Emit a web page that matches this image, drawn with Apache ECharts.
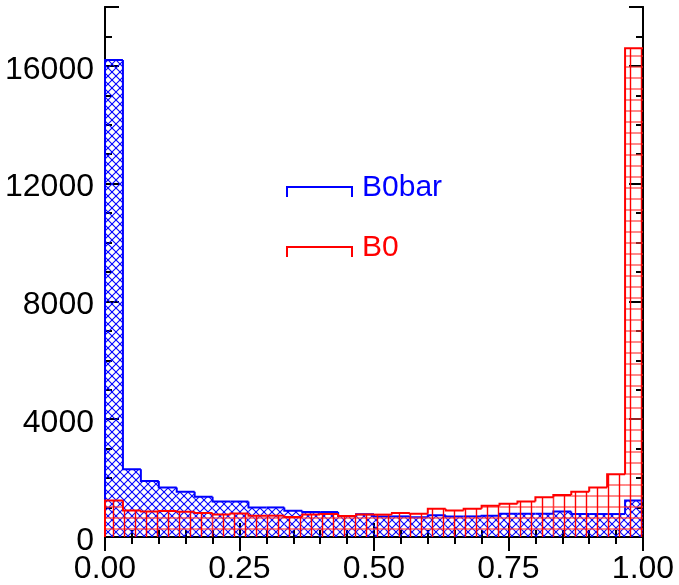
<!DOCTYPE html>
<html>
<head>
<meta charset="utf-8">
<script src="https://cdn.jsdelivr.net/npm/echarts@6/dist/echarts.min.js"></script>
<style>
  html, body { margin: 0; padding: 0; background: #fff; }
  #chart { width: 679px; height: 585px; }
</style>
</head>
<body>
<div id="chart"></div>
<script>
// Histogram of 30 equal bins on [0, 1]
const binCount = 30;
const xRange = [0, 1];
const yRange = [0, 18000];
const xTickLabels = ['0.00', '0.25', '0.50', '0.75', '1.00'];
const yTickLabels = ['0', '4000', '8000', '12000', '16000'];
const seriesNames = ['B0bar', 'B0'];

// Counts per bin
const b0barCounts = [16200, 2300, 1900, 1685, 1540, 1370, 1205, 1205, 1004, 1004,
                     893, 848, 848, 714, 770, 700, 700, 670, 735, 700,
                     700, 720, 790, 790, 790, 870, 780, 780, 780, 1240];
const b0Counts = [1240, 900, 870, 880, 860, 813, 760, 800, 725, 725,
                  680, 760, 780, 714, 760, 760, 813, 790, 960, 903,
                  960, 1060, 1127, 1205, 1350, 1430, 1540, 1685, 2130, 16600];

const FONT = '"Liberation Sans", Arial, Helvetica, sans-serif';

// Hatch patterns
function crossHatch(color, period) {
  const c = document.createElement('canvas');
  c.width = period; c.height = period;
  const g = c.getContext('2d');
  g.strokeStyle = color; g.lineWidth = 1.1;
  for (let k = -1; k <= 1; k++) {
    g.beginPath(); g.moveTo(k * period, 0); g.lineTo(k * period + period, period); g.stroke();
    g.beginPath(); g.moveTo(k * period, period); g.lineTo(k * period + period, 0); g.stroke();
  }
  return { image: c, repeat: 'repeat' };
}
function gridHatch(color, soft, period) {
  const c = document.createElement('canvas');
  c.width = period; c.height = period;
  const g = c.getContext('2d');
  g.strokeStyle = soft; g.lineWidth = 2;
  g.beginPath(); g.moveTo(0, 1); g.lineTo(period, 1); g.stroke();
  g.strokeStyle = color; g.lineWidth = 1.4;
  g.beginPath(); g.moveTo(3.5, 0); g.lineTo(3.5, period); g.stroke();
  return { image: c, repeat: 'repeat' };
}

function binData(counts) {
  return counts.map((v, i) => [i / binCount, (i + 1) / binCount, v, i > 0 ? counts[i - 1] : 0]);
}

function fillSeries(counts, pattern) {
  return {
    type: 'custom',
    xAxisIndex: 0, yAxisIndex: 0,
    data: binData(counts),
    silent: true,
    renderItem: function (params, api) {
      const p0 = api.coord([api.value(0), 0]);
      const p1 = api.coord([api.value(1), api.value(2)]);
      return {
        type: 'rect',
        shape: { x: p0[0], y: p1[1], width: p1[0] - p0[0], height: p0[1] - p1[1] },
        style: { fill: pattern, stroke: null }
      };
    }
  };
}

function outlineSeries(counts, color) {
  return {
    type: 'custom',
    xAxisIndex: 0, yAxisIndex: 0,
    data: binData(counts),
    silent: true,
    renderItem: function (params, api) {
      const a = api.coord([api.value(0), api.value(3)]);
      const b = api.coord([api.value(0), api.value(2)]);
      const c = api.coord([api.value(1), api.value(2)]);
      return {
        type: 'polyline',
        shape: { points: [a, b, c] },
        style: { stroke: color, lineWidth: 2, fill: null }
      };
    }
  };
}

const axisLine = { show: true, lineStyle: { color: '#000', width: 2 } };

function xAxisDef(position, withLabels) {
  return {
    type: 'value', position: position,
    min: xRange[0], max: xRange[1], interval: 0.25,
    axisLine: axisLine,
    axisTick: { show: true, inside: true, length: 14, lineStyle: { color: '#000', width: 2 } },
    minorTick: { show: true, splitNumber: 5, length: 7, lineStyle: { color: '#000', width: 2 } },
    splitLine: { show: false },
    axisLabel: withLabels ? {
      show: true, margin: 16, color: '#000', fontSize: 32, fontFamily: FONT,
      formatter: v => xTickLabels[Math.round(v * 4)]
    } : { show: false }
  };
}

function yAxisDef(position, step, tickLen, withLabels) {
  return {
    type: 'value', position: position,
    min: yRange[0], max: yRange[1], interval: step,
    axisLine: axisLine,
    axisTick: { show: true, inside: true, length: tickLen, lineStyle: { color: '#000', width: 2 } },
    splitLine: { show: false },
    axisLabel: withLabels ? {
      show: true, margin: 11, color: '#000', fontSize: 32, fontFamily: FONT,
      verticalAlign: 'top', lineHeight: 8,
      formatter: v => (v % 4000 === 0 && v / 4000 < yTickLabels.length) ? yTickLabels[v / 4000] : ''
    } : { show: false }
  };
}

function legendMark(y, color, label) {
  return [
    {
      type: 'polyline', silent: true,
      shape: { points: [[287, y + 10], [287, y], [352, y], [352, y + 10]] },
      style: { stroke: color, lineWidth: 2, fill: null }
    },
    {
      type: 'text', silent: true, x: 362, y: y + 1,
      style: { text: label, fill: color, font: '30px ' + FONT, verticalAlign: 'middle', align: 'left' }
    }
  ];
}

const chart = echarts.init(document.getElementById('chart'), null, { renderer: 'canvas' });
chart.setOption({
  animation: false,
  backgroundColor: '#fff',
  grid: { left: 105, right: 36, top: 7, bottom: 39, containLabel: false },
  xAxis: [xAxisDef('bottom', true), xAxisDef('top', false)],
  yAxis: [
    yAxisDef('left', 1000, 7, true),
    yAxisDef('left', 4000, 14, false),
    yAxisDef('right', 1000, 7, false),
    yAxisDef('right', 4000, 14, false)
  ],
  series: [
    fillSeries(b0barCounts, crossHatch('#0000ff', 8)),
    outlineSeries(b0barCounts, '#0000ff'),
    fillSeries(b0Counts, gridHatch('#ff0000', 'rgba(255,60,60,0.6)', 11)),
    outlineSeries(b0Counts, '#ff0000')
  ],
  graphic: [].concat(
    legendMark(187, '#0000ff', seriesNames[0]),
    legendMark(247, '#ff0000', seriesNames[1])
  )
});
</script>
</body>
</html>
